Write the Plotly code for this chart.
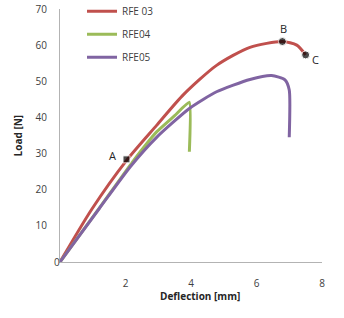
import plotly.graph_objects as go

# Data
rfe03_x = [0, 0.97, 2.04, 2.95, 3.77, 4.78, 5.8, 6.79, 7.23, 7.5]
rfe03_y = [0, 14.6, 28.2, 37.8, 46.3, 54.4, 59.4, 61.0, 60.0, 57.3]

rfe04_x = [0, 1.2, 2.2, 2.95, 3.5, 3.95, 3.95]
rfe04_y = [0, 14.9, 27.5, 36.0, 40.5, 44.2, 30.5]

rfe05_x = [0, 1.2, 2.14, 2.95, 3.97, 4.78, 5.8, 6.46, 6.87, 7.0, 7.0]
rfe05_y = [0, 14.8, 26.3, 34.5, 42.6, 47.1, 50.5, 51.6, 50.4, 47.6, 34.5]

point_labels = ["A", "B", "C"]
point_x = [2.03, 6.79, 7.5]
point_y = [28.4, 61.0, 57.3]

x_ticks = [2, 4, 6, 8]
y_ticks = [10, 20, 30, 40, 50, 60, 70]

FONT = "Open Sans"
TXT = "#404040"

fig = go.Figure()
fig.add_trace(go.Scatter(x=rfe03_x, y=rfe03_y, mode="lines", name="RFE 03",
                         line=dict(color="#C0504D", width=3, shape="spline", smoothing=0.7),
                         legendgroup="a"))
fig.add_trace(go.Scatter(x=rfe04_x, y=rfe04_y, mode="lines", name="RFE04",
                         line=dict(color="#9BBB59", width=3, shape="spline", smoothing=0.4),
                         legendgroup="b"))
fig.add_trace(go.Scatter(x=rfe05_x, y=rfe05_y, mode="lines", name="RFE05",
                         line=dict(color="#8064A2", width=3, shape="spline", smoothing=0.6),
                         legendgroup="c"))
fig.add_trace(go.Scatter(x=point_x, y=point_y, mode="markers", showlegend=False,
                         marker=dict(color="black", size=[7, 8, 8],
                                     symbol=["square", "circle", "circle"])))

label_shift = {"A": (-14, 4), "B": (1, 13), "C": (10, -5)}
for lab, px, py in zip(point_labels, point_x, point_y):
    dx, dy = label_shift[lab]
    fig.add_annotation(x=px, y=py, text=lab, showarrow=False, xshift=dx, yshift=dy,
                       font=dict(family=FONT, size=11, color="#262626"))

# origin label and axis titles
fig.add_annotation(x=-0.031, y=-0.036, xref="paper", yref="paper", text="0",
                   showarrow=False, font=dict(family=FONT, size=10, color=TXT))
fig.add_annotation(x=0.534, y=-0.17, xref="paper", yref="paper", text="<b>Deflection [mm]</b>",
                   showarrow=False, font=dict(family=FONT, size=10, color="#262626"))
fig.add_annotation(x=-0.195, y=0.5, xref="paper", yref="paper", text="<b>Load [N]</b>",
                   textangle=-90, showarrow=False,
                   font=dict(family=FONT, size=10, color="#262626"))

fig.update_layout(
    width=344, height=318,
    margin=dict(l=60, r=22, t=9, b=56, autoexpand=False),
    paper_bgcolor="white", plot_bgcolor="white",
    font=dict(family=FONT, size=10, color=TXT),
    showlegend=True,
    legend=dict(x=0.084, y=1.048, xanchor="left", yanchor="top",
                bgcolor="rgba(0,0,0,0)", tracegroupgap=4,
                font=dict(family=FONT, size=10, color=TXT)),
)
fig.update_xaxes(range=[0, 8], tickvals=x_ticks, showgrid=False, zeroline=False,
                 showline=True, linecolor="#b3b3b3", linewidth=1, automargin=False,
                 ticks="outside", ticklen=12, tickcolor="rgba(0,0,0,0)",
                 ticklabeloverflow="allow")
fig.update_yaxes(range=[0, 70], tickvals=y_ticks, showgrid=False, zeroline=False,
                 showline=True, linecolor="#b3b3b3", linewidth=1, automargin=False,
                 ticks="outside", ticklen=10, tickcolor="rgba(0,0,0,0)",
                 ticklabeloverflow="allow")

fig.write_html("out.html", config={"displayModeBar": False},
               post_script="document.body.style.margin='0';document.body.style.overflow='hidden';")
